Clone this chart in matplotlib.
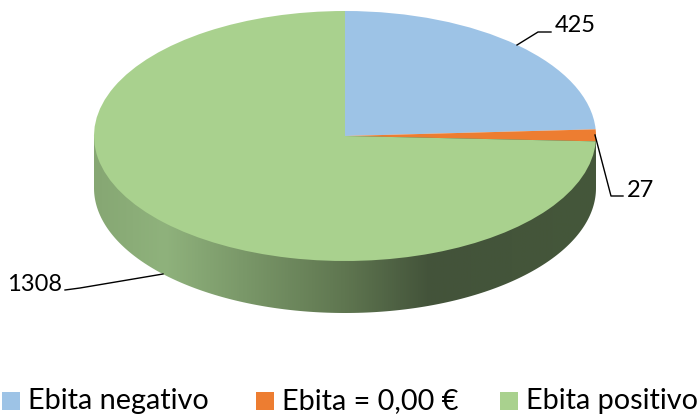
import matplotlib
matplotlib.use('Agg')
import matplotlib.pyplot as plt
import numpy as np
from matplotlib.colors import LinearSegmentedColormap
from matplotlib.patches import Polygon, Rectangle
from matplotlib.transforms import Affine2D

plt.rcParams['font.family'] = ['Lato', 'DejaVu Sans']

labels = ['Ebita negativo', 'Ebita = 0,00 €', 'Ebita positivo']
values = [425, 27, 1308]
colors = ['#9dc3e6', '#ed7d31', '#a9d18e']

# pie geometry, in pixels
cx, cy = 345, 136
rx, ry = 251, 125
depth = 52

fig = plt.figure(figsize=(7, 4.15), dpi=100)
ax = fig.add_axes([0, 0, 1, 1])

# side wall with the horizontal gradient
wall_cmap = LinearSegmentedColormap.from_list('wall', [
    (0.00, '#86a773'), (0.14, '#8fb27c'), (0.50, '#5f7650'),
    (0.67, '#43533a'), (1.00, '#45573a')])
grad = ax.imshow(np.linspace(0, 1, 512).reshape(1, -1), cmap=wall_cmap, aspect='auto',
                 extent=[cx - rx, cx + rx, cy + ry + depth, cy], zorder=1)
t = np.linspace(0, np.pi, 200)
outline = np.column_stack([cx + rx * np.cos(t), cy + depth + ry * np.sin(t)])
outline = np.vstack([[cx + rx, cy], outline, [cx - rx, cy]])
clip = Polygon(outline, transform=ax.transData, fill=False, edgecolor='none')
ax.add_patch(clip)
grad.set_clip_path(clip)

# top face
wedges, _ = ax.pie(values, colors=colors, startangle=90, counterclock=False)
squash = Affine2D().scale(rx, -ry).translate(cx, cy) + ax.transData
for w in wedges:
    w.set_transform(squash)
    w.set_zorder(2)
    w.set_linewidth(0)

ax.set_aspect('auto')
ax.set_xlim(0, 700)
ax.set_ylim(415, 0)
ax.axis('off')

# leader lines and value labels
ax.plot([517, 538, 551], [45, 32, 32], color='black', lw=1, zorder=3)
ax.plot([595, 611, 623], [135, 196, 196], color='black', lw=1, zorder=3)
ax.plot([163, 80, 65], [274, 288, 290], color='black', lw=1, zorder=3)
ax.text(555, 32, str(values[0]), fontsize=17, ha='left', va='baseline', zorder=4)
ax.text(627, 197, str(values[1]), fontsize=17, ha='left', va='baseline', zorder=4)
ax.text(7, 291, str(values[2]), fontsize=17, ha='left', va='baseline', zorder=4)

# legend
for lab, col, x in zip(labels, colors, [2, 256, 500]):
    ax.add_patch(Rectangle((x, 392), 18, 18, facecolor=col, edgecolor='none', clip_on=False))
    ax.text(x + 26, 409, lab, fontsize=20.8, ha='left', va='baseline', clip_on=False)

fig.savefig('out.png', dpi=100)
